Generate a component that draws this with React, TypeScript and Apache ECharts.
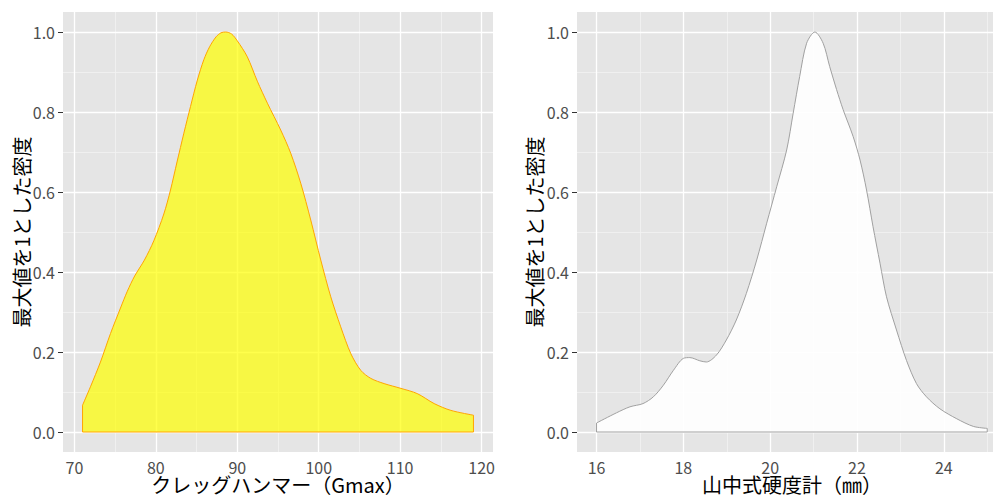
import React, { useEffect, useRef } from "react";
import * as echarts from "echarts";

// Left panel: Clegg hammer (Gmax) scaled density
const gmaxX = [71, 71.97, 73.2, 74.43, 75.66, 76.5, 77.4, 78.6, 79.75, 80.98, 81.8, 82.6, 83.44, 84.26, 85.1, 85.9, 86.6, 87.4, 88.0, 88.57, 89.3, 90.0, 91.23, 92.46, 93.7, 95.33, 96.56, 97.79, 99.02, 100.25, 101.48, 102.7, 103.94, 105.17, 106.4, 108.03, 110.1, 112.1, 114.18, 116.23, 119.0];
const gmaxY = [0.067, 0.113, 0.175, 0.246, 0.31, 0.352, 0.39, 0.43, 0.478, 0.545, 0.605, 0.675, 0.747, 0.814, 0.88, 0.931, 0.963, 0.988, 0.998, 1.0, 0.995, 0.978, 0.938, 0.877, 0.822, 0.755, 0.697, 0.622, 0.53, 0.43, 0.338, 0.263, 0.196, 0.154, 0.134, 0.121, 0.109, 0.096, 0.071, 0.054, 0.042];

// Right panel: Yamanaka hardness (mm) scaled density
const hardX = [16, 16.46, 16.77, 17.07, 17.31, 17.54, 17.77, 18.0, 18.15, 18.38, 18.53, 18.76, 18.99, 19.22, 19.45, 19.69, 19.92, 20.15, 20.38, 20.53, 20.68, 20.84, 21.03, 21.22, 21.37, 21.53, 21.68, 21.91, 22.07, 22.22, 22.37, 22.53, 22.68, 22.91, 23.14, 23.37, 23.6, 23.91, 24.3, 24.68, 25.0];
const hardY = [0.0225, 0.048, 0.063, 0.071, 0.088, 0.117, 0.154, 0.184, 0.186, 0.178, 0.175, 0.192, 0.23, 0.28, 0.346, 0.43, 0.522, 0.613, 0.705, 0.797, 0.889, 0.972, 1.0, 0.972, 0.914, 0.856, 0.806, 0.739, 0.68, 0.605, 0.513, 0.422, 0.338, 0.255, 0.179, 0.121, 0.088, 0.058, 0.033, 0.014, 0.009];

const gmaxTicks = [70, 80, 90, 100, 110, 120];
const gmaxMinor = [75, 85, 95, 105, 115];
const hardTicks = [16, 18, 20, 22, 24];
const hardMinor = [17, 19, 21, 23, 25];
const yTicks = [0, 0.2, 0.4, 0.6, 0.8, 1.0];
const yMinor = [0.1, 0.3, 0.5, 0.7, 0.9];

const yTitle = "最大値を1とした密度";
const xTitleLeft = "クレッグハンマー（Gmax）";
const xTitleRight = "山中式硬度計（㎜）";

const FONT = "'Noto Sans CJK JP', 'Noto Sans', sans-serif";

function gridLines(xMajor: number[], xMinor: number[]) {
  const minorStyle = { color: "#F2F2F2", width: 0.8, type: "solid" };
  const majorStyle = { color: "#FFFFFF", width: 1.3, type: "solid" };
  const d: any[] = [];
  xMinor.forEach((v) => d.push({ xAxis: v, lineStyle: minorStyle }));
  yMinor.forEach((v) => d.push({ yAxis: v, lineStyle: minorStyle }));
  xMajor.forEach((v) => d.push({ xAxis: v, lineStyle: majorStyle }));
  yTicks.forEach((v) => d.push({ yAxis: v, lineStyle: majorStyle }));
  return d;
}

export default function App() {
  const ref = useRef<HTMLDivElement>(null);
  useEffect(() => {
    if (!ref.current) return;
    const chart = echarts.init(ref.current, undefined, { renderer: "svg" });
    const axisLabelBase = { color: "#4D4D4D", fontSize: 16, lineHeight: 16, fontFamily: FONT };
    const tickBase = { show: true, length: 5, lineStyle: { color: "#333333", width: 1 } };
    const xAxisCommon = (gi: number, min: number, max: number, ticks: number[]) => ({
      type: "value",
      gridIndex: gi,
      min,
      max,
      axisLine: { show: false },
      splitLine: { show: false },
      axisTick: { ...tickBase, customValues: ticks },
      axisLabel: { ...axisLabelBase, margin: 7, customValues: ticks, formatter: (v: number) => String(v) },
    });
    const yAxisCommon = (gi: number) => ({
      type: "value",
      gridIndex: gi,
      min: -0.05,
      max: 1.05,
      axisLine: { show: false },
      splitLine: { show: false },
      axisTick: { ...tickBase, customValues: yTicks },
      axisLabel: { ...axisLabelBase, margin: 8, customValues: yTicks, formatter: (v: number) => v.toFixed(1) },
    });
    const titleStyle = (text: string) => ({
      text,
      font: `20px ${FONT}`,
      lineHeight: 20,
      fill: "#000000",
      align: "center",
      verticalAlign: "middle",
    });
    const option: any = {
      animation: false,
      backgroundColor: "#FFFFFF",
      grid: [
        { left: 63, top: 12, width: 430, height: 440, show: true, backgroundColor: "#E5E5E5", borderWidth: 0 },
        { left: 577, top: 12, width: 416, height: 440, show: true, backgroundColor: "#E5E5E5", borderWidth: 0 },
      ],
      xAxis: [
        xAxisCommon(0, 68.6, 121.4, gmaxTicks),
        xAxisCommon(1, 15.55, 25.133, hardTicks),
      ],
      yAxis: [yAxisCommon(0), yAxisCommon(1)],
      series: [
        {
          type: "line",
          xAxisIndex: 0,
          yAxisIndex: 0,
          data: [],
          z: 1,
          silent: true,
          markLine: { silent: true, symbol: ["none", "none"], label: { show: false }, z: 1, animation: false, data: gridLines(gmaxTicks, gmaxMinor) },
        },
        {
          type: "line",
          xAxisIndex: 1,
          yAxisIndex: 1,
          data: [],
          z: 1,
          silent: true,
          markLine: { silent: true, symbol: ["none", "none"], label: { show: false }, z: 1, animation: false, data: gridLines(hardTicks, hardMinor) },
        },
        {
          type: "line",
          xAxisIndex: 0,
          yAxisIndex: 0,
          z: 3,
          smooth: 0.3,
          showSymbol: false,
          silent: true,
          data: gmaxX.map((x, i) => [x, gmaxY[i]]),
          lineStyle: { color: "#FFA500", width: 1 },
          areaStyle: { color: "#FFFF00", opacity: 0.7, origin: 0 },
        },
        {
          type: "line",
          xAxisIndex: 0,
          yAxisIndex: 0,
          z: 4,
          showSymbol: false,
          silent: true,
          data: [
            [gmaxX[0], gmaxY[0]],
            [gmaxX[0], 0],
            [gmaxX[gmaxX.length - 1], 0],
            [gmaxX[gmaxX.length - 1], gmaxY[gmaxY.length - 1]],
          ],
          lineStyle: { color: "#FFA500", width: 1 },
        },
        {
          type: "line",
          xAxisIndex: 1,
          yAxisIndex: 1,
          z: 3,
          smooth: 0.3,
          showSymbol: false,
          silent: true,
          data: hardX.map((x, i) => [x, hardY[i]]),
          lineStyle: { color: "#A0A0A0", width: 1 },
          areaStyle: { color: "#FFFFFF", opacity: 0.9, origin: 0 },
        },
        {
          type: "line",
          xAxisIndex: 1,
          yAxisIndex: 1,
          z: 4,
          showSymbol: false,
          silent: true,
          data: [
            [hardX[0], hardY[0]],
            [hardX[0], 0],
            [hardX[hardX.length - 1], 0],
            [hardX[hardX.length - 1], hardY[hardY.length - 1]],
          ],
          lineStyle: { color: "#A0A0A0", width: 1 },
        },
      ],
      graphic: [
        { type: "text", x: 278, y: 484, z: 10, style: titleStyle(xTitleLeft) },
        { type: "text", x: 792, y: 484, z: 10, style: titleStyle(xTitleRight) },
        { type: "text", x: 21, y: 232, rotation: Math.PI / 2, z: 10, style: titleStyle(yTitle) },
        { type: "text", x: 534, y: 232, rotation: Math.PI / 2, z: 10, style: titleStyle(yTitle) },
      ],
    };
    chart.setOption(option);
    return () => chart.dispose();
  }, []);
  return (
    <div
      ref={ref}
      style={{ position: "fixed", left: 0, top: 0, width: 993, height: 497, background: "#FFFFFF" }}
    />
  );
}
